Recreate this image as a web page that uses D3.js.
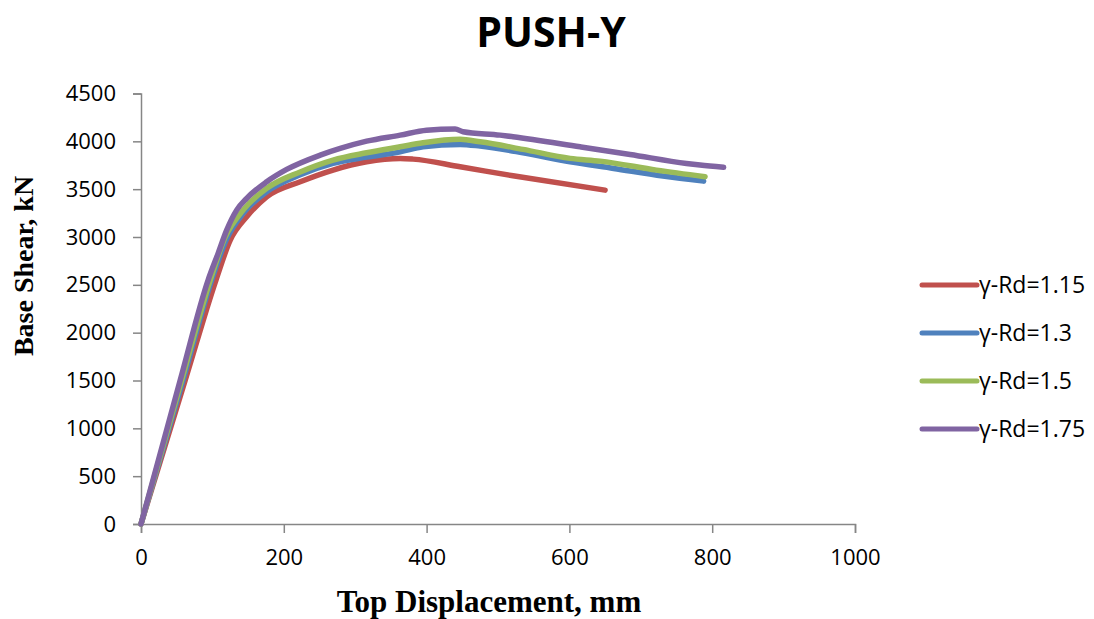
<!DOCTYPE html>
<html>
<head>
<meta charset="utf-8">
<title>PUSH-Y</title>
<script src="https://cdn.jsdelivr.net/npm/d3@7"></script>
<style>
  body { margin: 0; background: #fff; }
  #chart { width: 1094px; height: 619px; }
</style>
</head>
<body>
<div id="chart"></div>
<script>
(function () {

  // legend labels, one per pushover curve
  const seriesNames = ['γ-Rd=1.15', 'γ-Rd=1.3', 'γ-Rd=1.5', 'γ-Rd=1.75'];

  // top displacement (mm) and base shear (kN) for each curve
  const disp115 = [0, 62, 105, 125, 148, 176, 223, 269, 316, 363, 381, 447, 521, 650];
  const shear115 = [0, 1505, 2550, 2968, 3211, 3420, 3577, 3700, 3786, 3821, 3814, 3734, 3640, 3490];

  const disp130 = [0, 59, 99, 120, 143, 176, 223, 269, 316, 363, 395, 447, 475, 535, 601, 662, 731, 788];
  const shear130 = [0, 1505, 2550, 2980, 3247, 3473, 3650, 3769, 3835, 3890, 3943, 3968, 3950, 3880, 3786, 3717, 3637, 3584];

  const disp150 = [0, 57, 97, 118, 143, 176, 223, 269, 316, 363, 395, 447, 475, 535, 601, 643, 722, 790];
  const shear150 = [0, 1505, 2550, 3000, 3281, 3508, 3680, 3804, 3880, 3943, 3985, 4021, 3995, 3916, 3822, 3793, 3699, 3630];

  const disp175 = [0, 55, 94, 108, 120, 134, 148, 176, 204, 251, 279, 316, 363, 400, 440, 451, 503, 521, 615, 685, 764, 783, 816];
  const shear175 = [0, 1505, 2550, 2829, 3072, 3281, 3404, 3577, 3706, 3856, 3926, 4002, 4065, 4117, 4130, 4100, 4065, 4048, 3943, 3863, 3769, 3752, 3728];

  // axis ticks
  const xTicks = [0, 200, 400, 600, 800, 1000];
  const yTicks = [0, 500, 1000, 1500, 2000, 2500, 3000, 3500, 4000, 4500];

  // line colours in series order
  const colors = ['#C0504D', '#4F81BD', '#9BBB59', '#8064A2'];

  const series = [
    { name: seriesNames[0], x: disp115, y: shear115 },
    { name: seriesNames[1], x: disp130, y: shear130 },
    { name: seriesNames[2], x: disp150, y: shear150 },
    { name: seriesNames[3], x: disp175, y: shear175 }
  ];

  const width = 1094;
  const height = 619;
  const margin = { top: 93.5, right: 239, bottom: 95, left: 141 };

  const svg = d3.select('#chart')
    .append('svg')
    .attr('width', width)
    .attr('height', height);

  const x = d3.scaleLinear()
    .domain([0, 1000])
    .range([margin.left, width - margin.right]);

  const y = d3.scaleLinear()
    .domain([0, 4500])
    .range([height - margin.bottom, margin.top]);

  const axisColor = '#868686';
  const tickFont = '"Open Sans", "Noto Sans", sans-serif';

  // x axis, ticks hang below the line
  const xAxis = svg.append('g')
    .attr('transform', `translate(0,${y(0)})`)
    .call(d3.axisBottom(x).tickValues(xTicks).tickSize(9).tickPadding(16).tickFormat(d3.format('d')));

  // y axis, ticks point left
  const yAxis = svg.append('g')
    .attr('transform', `translate(${x(0)},0)`)
    .call(d3.axisLeft(y).tickValues(yTicks).tickSize(8).tickPadding(17).tickFormat(d3.format('d')));

  [xAxis, yAxis].forEach(g => {
    g.select('.domain').attr('stroke', axisColor).attr('stroke-width', 1.5);
    g.selectAll('.tick line').attr('stroke', axisColor).attr('stroke-width', 1.5);
    g.selectAll('.tick text')
      .attr('fill', '#000')
      .style('font-family', tickFont)
      .style('font-size', '22px');
  });

  // line generator for each pushover curve
  const line = d3.line()
    .x(d => x(d[0]))
    .y(d => y(d[1]))
    .curve(d3.curveMonotoneX);

  svg.append('g')
    .selectAll('path')
    .data(series)
    .join('path')
    .attr('d', s => line(d3.zip(s.x, s.y)))
    .attr('fill', 'none')
    .attr('stroke', (s, i) => colors[i])
    .attr('stroke-width', 5.5)
    .attr('stroke-linejoin', 'round')
    .attr('stroke-linecap', 'round');

  // legend on the right
  const legend = svg.append('g')
    .selectAll('g')
    .data(series)
    .join('g')
    .attr('transform', (s, i) => `translate(922,${285 + i * 48})`);

  legend.append('line')
    .attr('x1', 0)
    .attr('x2', 55)
    .attr('stroke', (s, i) => colors[i])
    .attr('stroke-width', 5)
    .attr('stroke-linecap', 'round');

  legend.append('text')
    .attr('x', 57)
    .attr('dy', '0.36em')
    .style('font-family', tickFont)
    .style('font-size', '23px')
    .text(s => s.name);

  // chart title
  svg.append('text')
    .attr('x', 551)
    .attr('y', 47)
    .attr('text-anchor', 'middle')
    .style('font-family', tickFont)
    .style('font-weight', 'bold')
    .style('font-size', '41px')
    .text('PUSH-Y');

  // axis titles
  svg.append('text')
    .attr('x', 489)
    .attr('y', 612)
    .attr('text-anchor', 'middle')
    .style('font-family', '"Liberation Serif", "Times New Roman", serif')
    .style('font-weight', 'bold')
    .style('font-size', '31px')
    .text('Top Displacement, mm');

  svg.append('text')
    .attr('transform', 'translate(33,266) rotate(-90)')
    .attr('text-anchor', 'middle')
    .style('font-family', '"Liberation Serif", "Times New Roman", serif')
    .style('font-weight', 'bold')
    .style('font-size', '28px')
    .text('Base Shear, kN');

})();
</script>
</body>
</html>
